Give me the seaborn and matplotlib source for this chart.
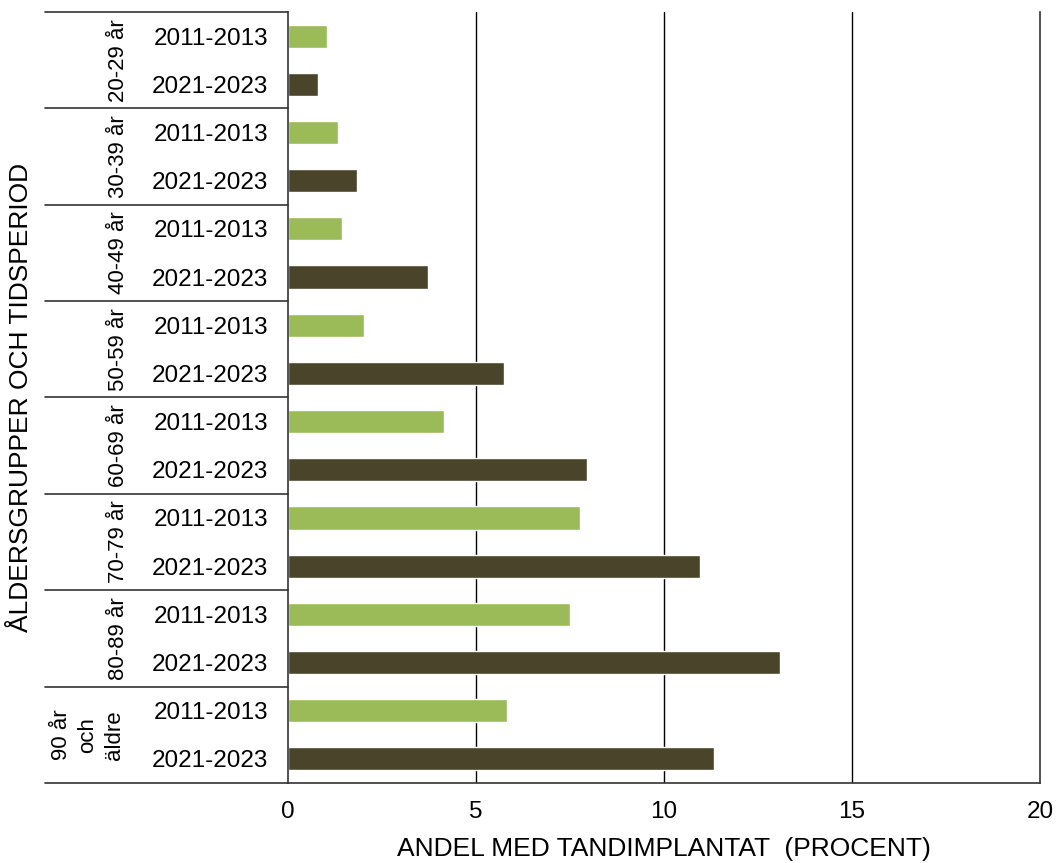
import numpy as np
import pandas as pd
import matplotlib
matplotlib.use("Agg")
import matplotlib.pyplot as plt
import seaborn as sns

# ===============================================
# DATA
# ===============================================
age_groups = ["20-29 år", "30-39 år", "40-49 år", "50-59 år",
              "60-69 år", "70-79 år", "80-89 år", "90 år\noch\näldre"]
periods = ["2011-2013", "2021-2023"]
values_2011 = [1.04, 1.33, 1.44, 2.02, 4.15, 7.77, 7.50, 5.82]
values_2021 = [0.80, 1.84, 3.72, 5.74, 7.95, 10.96, 13.09, 11.33]

GREEN = "#9BBB59"
DARK = "#4A452A"

rows = []
for i, age in enumerate(age_groups):
    rows.append({"rad": f"{i}-0", "grupp": age, "period": periods[0], "andel": values_2011[i]})
    rows.append({"rad": f"{i}-1", "grupp": age, "period": periods[1], "andel": values_2021[i]})
df = pd.DataFrame(rows)

# ===============================================
# PLOT
# ===============================================
sns.set_style("white")
plt.rcParams['font.family'] = ['Liberation Sans', 'DejaVu Sans']
plt.rcParams['text.color'] = 'black'
plt.rcParams['axes.labelcolor'] = 'black'

fig = plt.figure(figsize=(10.59, 8.63), dpi=100)
ax = fig.add_axes([0.272, 0.0927, 0.710, 0.8934])

sns.barplot(data=df, y="rad", x="andel", hue="period", palette=[GREEN, DARK],
            orient="h", dodge=False, width=0.48, legend=False, ax=ax, saturation=1)

ax.set_xlim(0, 20)
ax.set_ylim(len(df) - 0.5, -0.5)
ax.set_xticks([0, 5, 10, 15, 20])
ax.set_yticks(range(len(df)))
ax.set_yticklabels(df["period"])
ax.tick_params(axis="both", length=0, labelsize=17.5, colors="black")
ax.tick_params(axis="y", pad=14)
ax.tick_params(axis="x", pad=13)

for x in [5, 10, 15]:
    ax.axvline(x, color="black", lw=1, zorder=0)

for side in ["left", "bottom", "right"]:
    ax.spines[side].set_visible(True)
    ax.spines[side].set_color("#333333")
    ax.spines[side].set_linewidth(1.2)
ax.spines["top"].set_visible(False)

# group separators out into the label area
trans = ax.get_yaxis_transform()
for k in range(len(age_groups) + 1):
    y = 2 * k - 0.5
    ax.plot([-0.323, 0], [y, y], transform=trans, color="#333333", lw=1.2, clip_on=False)

# age labels, rotated
for i, age in enumerate(age_groups):
    xpos = -0.266 if "\n" in age else -0.226
    ax.text(xpos, 2 * i + 0.5, age, transform=trans, rotation=90,
            ha="center", va="center", multialignment="center",
            fontsize=16, linespacing=1.35)

ax.set_xlabel("ANDEL MED TANDIMPLANTAT  (PROCENT)", fontsize=19, labelpad=10)
ax.set_ylabel("ÅLDERSGRUPPER OCH TIDSPERIOD", fontsize=19)
ax.yaxis.set_label_coords(-0.339, 0.5)

plt.savefig("out.png", dpi=100)
plt.close()
